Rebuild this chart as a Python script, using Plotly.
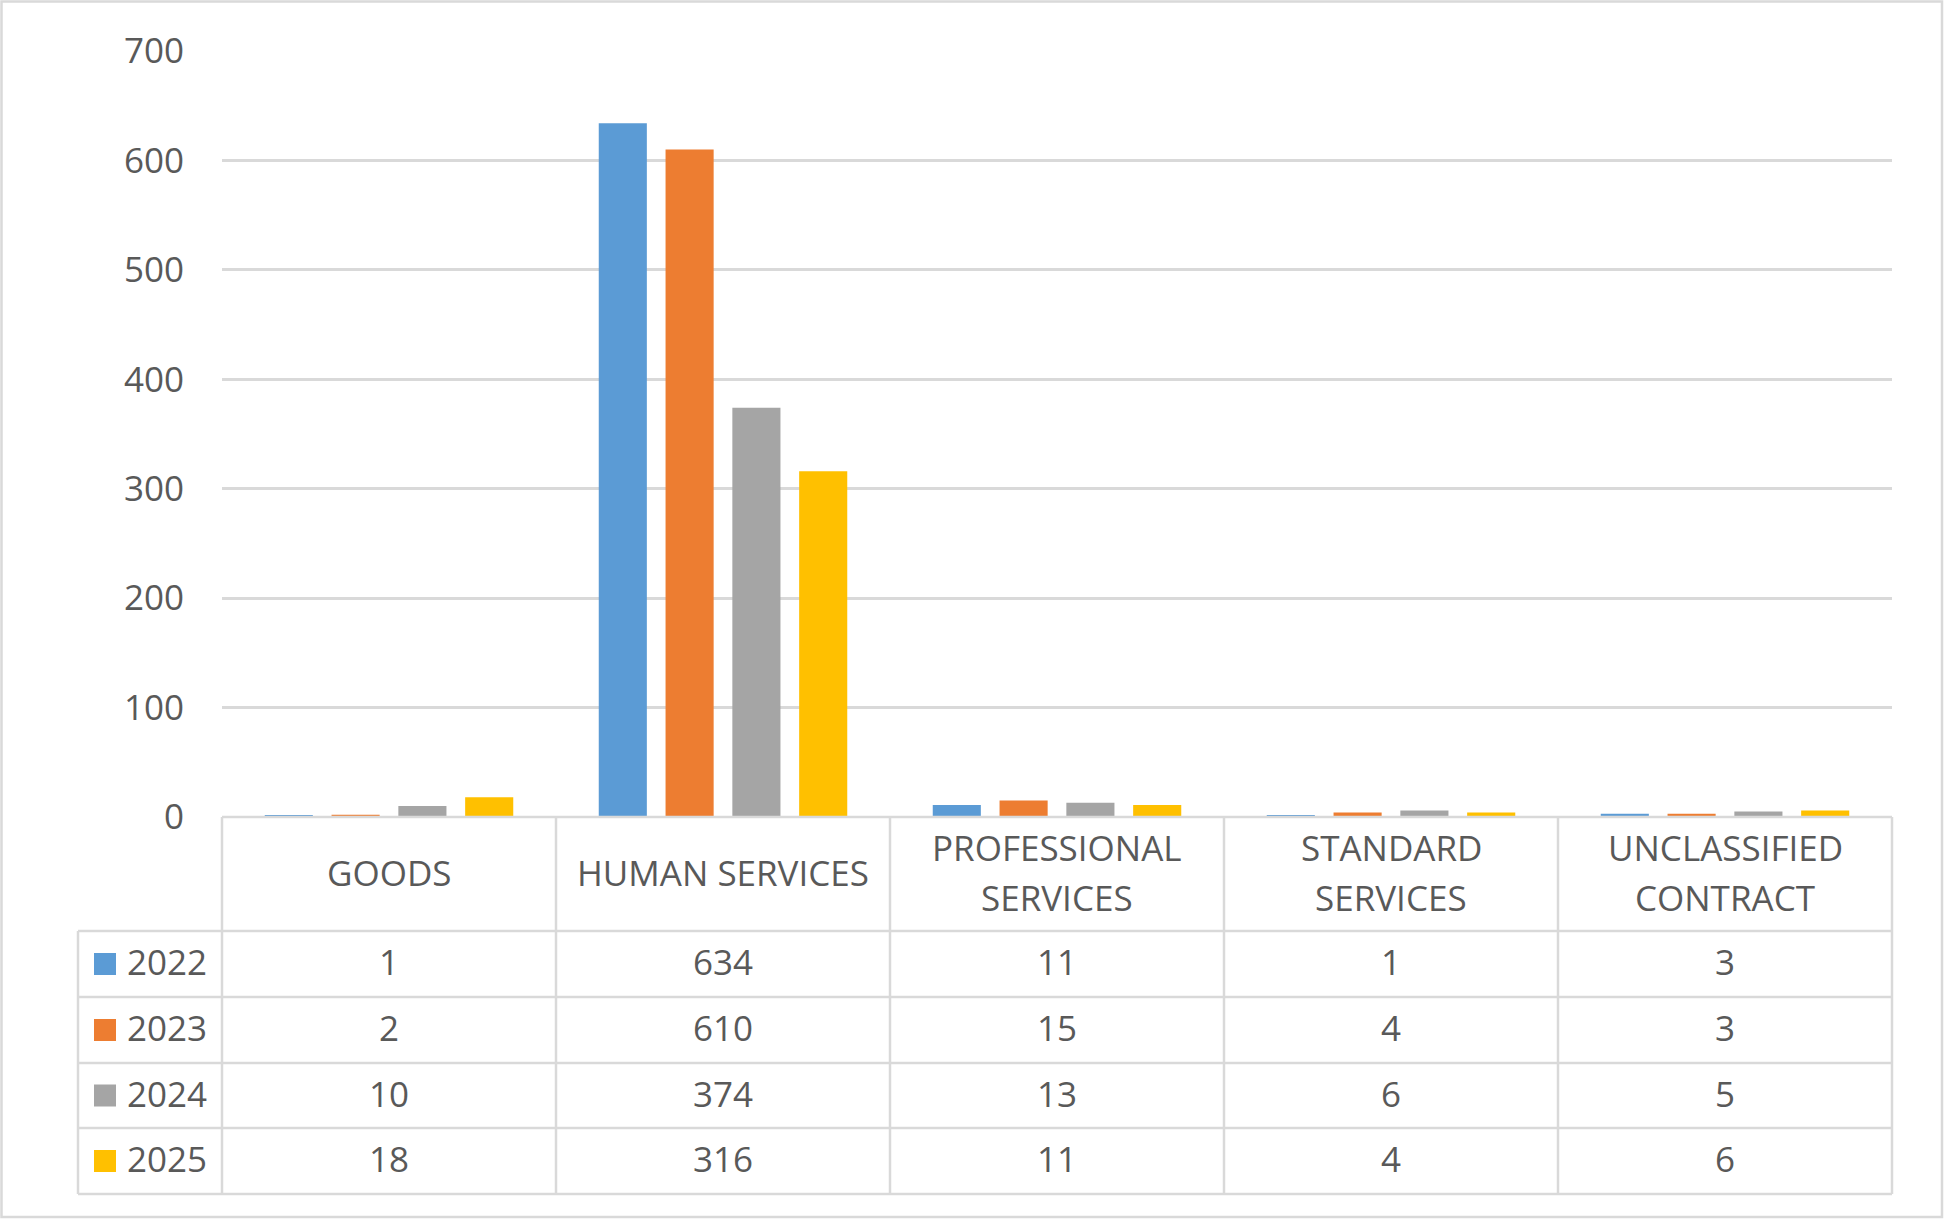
import plotly.graph_objects as go

# ---------------- data ----------------
categories = ["GOODS", "HUMAN SERVICES", "PROFESSIONAL SERVICES", "STANDARD SERVICES", "UNCLASSIFIED CONTRACT"]
category_labels = ["GOODS", "HUMAN SERVICES", "PROFESSIONAL<br>SERVICES", "STANDARD<br>SERVICES", "UNCLASSIFIED<br>CONTRACT"]
years = ["2022", "2023", "2024", "2025"]
values_2022 = [1, 634, 11, 1, 3]
values_2023 = [2, 610, 15, 4, 3]
values_2024 = [10, 374, 13, 6, 5]
values_2025 = [18, 316, 11, 4, 6]
y_ticks = [0, 100, 200, 300, 400, 500, 600, 700]

series = [values_2022, values_2023, values_2024, values_2025]
colors = ["#5B9BD5", "#ED7D31", "#A5A5A5", "#FFC000"]

# ---------------- layout geometry (pixels) ----------------
W, H = 1944, 1219
L, R, T, B = 222, 1892, 51, 817
TXT = "#595959"
LINE = "#D9D9D9"
FONT = "Open Sans"
FS = 35

def px(x):
    return (x - L) / (R - L)

def py(y):
    return (B - y) / (B - T)

fig = go.Figure()
for yr, vals, col in zip(years, series, colors):
    fig.add_trace(go.Bar(x=categories, y=vals, name=yr, marker=dict(color=col, line=dict(width=0))))

# table geometry
col_edges = [222, 556, 890, 1224, 1558, 1892]
row_edges = [817, 931, 997, 1063, 1128, 1194]
leg_left = 78

shapes = []
# outer chart border
shapes.append(dict(type="rect", xref="paper", yref="paper",
                   x0=px(1.5), x1=px(W - 2), y0=py(1.5), y1=py(H - 2),
                   line=dict(color=LINE, width=2.5), fillcolor="rgba(0,0,0,0)"))
# horizontal table lines
shapes.append(dict(type="line", xref="paper", yref="paper", x0=px(L), x1=px(R),
                   y0=py(row_edges[0]), y1=py(row_edges[0]), line=dict(color=LINE, width=2.5)))
for ry in row_edges[1:]:
    shapes.append(dict(type="line", xref="paper", yref="paper", x0=px(leg_left), x1=px(R),
                       y0=py(ry), y1=py(ry), line=dict(color=LINE, width=2.5)))
# vertical table lines
for cx in col_edges:
    shapes.append(dict(type="line", xref="paper", yref="paper", x0=px(cx), x1=px(cx),
                       y0=py(row_edges[0]), y1=py(row_edges[-1]), line=dict(color=LINE, width=2.5)))
shapes.append(dict(type="line", xref="paper", yref="paper", x0=px(leg_left), x1=px(leg_left),
                   y0=py(row_edges[1]), y1=py(row_edges[-1]), line=dict(color=LINE, width=2.5)))

annotations = []
hdr_c = (row_edges[0] + row_edges[1]) / 2 - 1
line_gap = 50
for cat, lab in zip(categories, category_labels):
    lines = lab.split("<br>")
    n = len(lines)
    for k, ln in enumerate(lines):
        yc = hdr_c + (k - (n - 1) / 2) * line_gap
        annotations.append(dict(x=cat, xref="x", y=py(yc), yref="paper", text=ln, showarrow=False,
                                font=dict(family=FONT, size=FS, color=TXT), xanchor="center", yanchor="middle"))
for j, (yr, vals, col) in enumerate(zip(years, series, colors)):
    rc = (row_edges[j + 1] + row_edges[j + 2]) / 2
    # legend key square
    shapes.append(dict(type="rect", xref="paper", yref="paper", x0=px(94), x1=px(116),
                       y0=py(rc - 11), y1=py(rc + 11), line=dict(width=0), fillcolor=col))
    annotations.append(dict(x=px(125), xref="paper", y=py(rc - 2.5), yref="paper", text=yr, showarrow=False,
                            font=dict(family=FONT, size=FS, color=TXT), xanchor="left", yanchor="middle"))
    for cat, v in zip(categories, vals):
        annotations.append(dict(x=cat, xref="x", y=py(rc - 2.5), yref="paper", text=str(v), showarrow=False,
                                font=dict(family=FONT, size=FS, color=TXT), xanchor="center", yanchor="middle"))

fig.update_layout(
    width=W, height=H,
    margin=dict(l=L, r=W - R, t=T, b=H - B, pad=0),
    paper_bgcolor="white", plot_bgcolor="white",
    barmode="group", bargap=0.2, bargroupgap=0.28,
    showlegend=False,
    font=dict(family=FONT, size=FS, color=TXT),
    shapes=shapes, annotations=annotations,
    xaxis=dict(type="category", range=[-0.5, 4.5], showticklabels=False, showgrid=False,
               zeroline=False, showline=False, ticks=""),
    yaxis=dict(range=[0, 700], tickvals=y_ticks, showgrid=True, gridcolor=LINE, gridwidth=2.5,
               zeroline=False, showline=False, ticks="", ticklabelstandoff=37,
               tickfont=dict(family=FONT, size=FS, color=TXT)),
)

fig.write_html("out.html", config={"displayModeBar": False},
               post_script="document.body.style.margin='0';document.body.style.overflow='hidden';")
